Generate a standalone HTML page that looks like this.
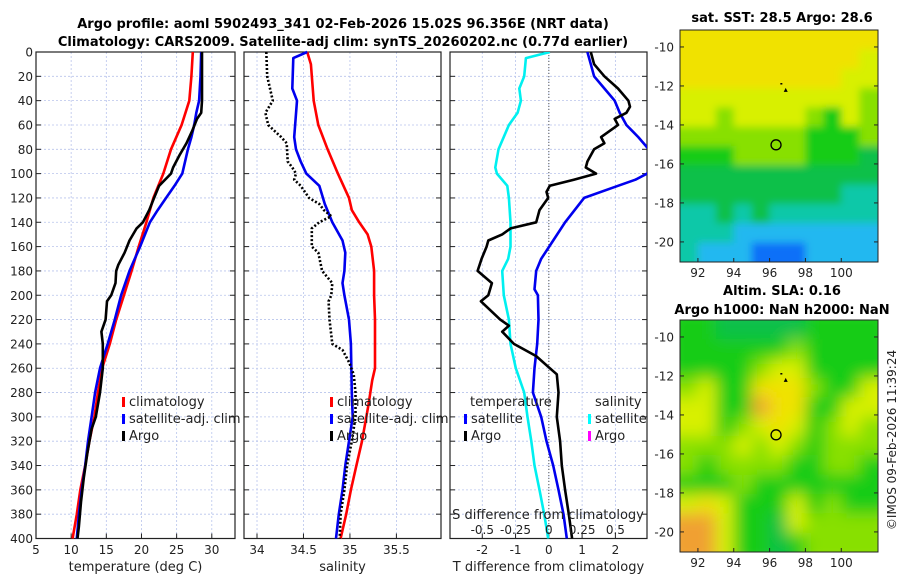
<!DOCTYPE html>
<html><head><meta charset="utf-8"><style>
body{margin:0;background:#fff;width:900px;height:580px;overflow:hidden}
svg{font-family:"DejaVu Sans","Liberation Sans",sans-serif}
</style></head><body>
<svg id="fig" width="900" height="580">
<text x="343" y="28" text-anchor="middle" font-size="13" font-weight="bold">Argo profile: aoml 5902493_341 02-Feb-2026 15.02S 96.356E (NRT data)</text>
<text x="343" y="46" text-anchor="middle" font-size="13" font-weight="bold">Climatology: CARS2009. Satellite-adj clim: synTS_20260202.nc (0.77d earlier)</text>
<g id="p1"></g>
<g id="p2"></g>
<g id="p3"></g>
<g id="m1"></g>
<g id="m2"></g>
<text x="782" y="22" text-anchor="middle" font-size="13" font-weight="bold">sat. SST: 28.5 Argo: 28.6</text>
<text x="782" y="295" text-anchor="middle" font-size="13" font-weight="bold">Altim. SLA: 0.16</text>
<text x="782" y="314" text-anchor="middle" font-size="13" font-weight="bold">Argo h1000: NaN h2000: NaN</text>
<text transform="translate(896,440) rotate(-90)" text-anchor="middle" font-size="12" fill="#222">©IMOS 09-Feb-2026 11:39:24</text>
</svg>
<script>
const climDepth=[0,20,40,60,80,100,120,140,160,180,200,220,240,260,280,300,320,340,360,380,400];
const climTemp=[27.3,27.1,26.8,25.7,24.2,23.1,21.7,20.7,19.6,18.6,17.5,16.4,15.5,14.4,13.8,13.3,12.6,12.0,11.3,10.8,10.2];
const satDepth=[0,20,40,50,60,70,80,100,110,120,130,140,160,180,200,220,240,260,280,300,320,340,360,380,400];
const satTemp=[28.5,28.4,28.2,27.8,27.5,27.1,26.6,25.8,24.7,23.5,22.3,21.2,19.8,18.3,17.1,16.2,15.2,14.1,13.4,12.9,12.4,12.0,11.5,11.1,10.8];
const argoTDepth=[0,20,40,50,55,65,75,85,95,100,110,120,130,140,145,155,165,175,180,190,200,205,220,230,240,260,280,300,310,330,350,370,390,400];
const argoTemp=[28.6,28.6,28.6,28.5,27.9,27.2,26.4,25.4,24.5,24.2,22.5,21.8,21.1,20.2,19.3,18.3,17.6,16.7,16.4,16.3,15.7,15.1,14.9,14.3,14.5,14.5,14.1,13.5,12.9,12.3,11.8,11.4,11.1,10.9];
const climSDepth=[0,10,40,60,80,100,120,130,140,150,160,180,200,220,240,260,270,290,320,340,360,380,400];
const climSal=[34.54,34.58,34.61,34.66,34.76,34.87,34.99,35.02,35.10,35.19,35.23,35.26,35.26,35.27,35.27,35.27,35.24,35.20,35.13,35.07,35.01,34.96,34.90];
const satSDepth=[0,5,30,40,70,80,90,100,110,125,140,155,165,180,190,200,220,240,280,300,320,340,360,380,400];
const satSal=[34.54,34.39,34.38,34.43,34.40,34.42,34.47,34.53,34.67,34.73,34.81,34.92,34.95,34.94,34.92,34.94,34.99,35.01,35.02,35.03,34.99,34.95,34.92,34.88,34.85];
const argoSDepth=[0,20,40,50,60,70,75,90,95,100,105,110,120,125,130,135,140,145,160,165,180,190,200,205,220,240,245,255,265,280,300,320,340,360,380,400];
const argoSal=[34.10,34.11,34.17,34.09,34.12,34.26,34.32,34.33,34.38,34.42,34.40,34.47,34.56,34.67,34.72,34.80,34.67,34.59,34.59,34.66,34.70,34.81,34.80,34.77,34.78,34.81,34.92,34.99,35.04,35.06,35.06,35.02,34.97,34.94,34.90,34.89];
const dSatTDepth=[0,10,20,30,40,50,60,70,80,97,100,105,110,120,140,155,170,180,195,200,220,240,260,280,300,320,340,360,380,400];
const dSatT=[1.16,1.26,1.36,1.67,1.98,2.13,2.33,2.69,3.0,3.05,2.95,2.6,2.08,1.06,0.49,0.13,-0.23,-0.38,-0.43,-0.33,-0.31,-0.35,-0.43,-0.48,-0.23,-0.07,0.13,0.29,0.44,0.54];
const dArgoTDepth=[0,10,20,30,40,45,50,55,60,70,75,80,90,95,100,105,110,115,120,130,140,145,150,155,160,170,180,190,200,205,220,225,230,240,250,260,265,280,300,320,340,360,380,400];
const dArgoT=[1.26,1.36,1.67,2.08,2.39,2.44,2.33,1.98,2.08,1.57,1.67,1.36,1.16,1.11,1.42,0.75,0.03,-0.07,-0.02,-0.28,-0.38,-1.15,-1.4,-1.82,-1.87,-2.02,-2.14,-1.71,-1.82,-2.04,-1.46,-1.2,-1.4,-1.05,-0.38,0.03,0.24,0.29,0.24,0.34,0.39,0.49,0.6,0.7];
const dSatSDepth=[0,5,20,30,40,50,60,80,95,100,110,120,140,160,170,180,200,220,240,260,280,300,320,340,360,380,400];
const dSatS=[0.008,-0.172,-0.185,-0.222,-0.21,-0.235,-0.3,-0.378,-0.402,-0.39,-0.312,-0.3,-0.288,-0.288,-0.305,-0.35,-0.338,-0.3,-0.288,-0.248,-0.185,-0.16,-0.132,-0.108,-0.07,-0.035,-0.005];
const depthTicks=[0,20,40,60,80,100,120,140,160,180,200,220,240,260,280,300,320,340,360,380,400];
const tTicks=[5,10,15,20,25,30];
const sTicks=[34,34.5,35,35.5];
const dTicks=[-2,-1,0,1,2];
const dsTicks=[-0.5,-0.25,0,0.25,0.5];
const lonTicks=[92,94,96,98,100];
const latTicks=[-10,-12,-14,-16,-18,-20];
const sstGrid=["88888888888","88888888887","88888888877","77777777776","77677776576","66666665556","55566665554","44444444444","44444444433","33434333333","33322222222","32221112222"];
const slaGrid=["55444445555","55555565555","55556775555","67558886557","77559885577","77567875676","66676765666","65666655665","55565555555","78755575655","99755476666","99755456666"];

const NS="http://www.w3.org/2000/svg";
const TOP=52,BOT=538.5;
function el(p,t,a){const e=document.createElementNS(NS,t);for(const k in a)e.setAttribute(k,a[k]);p.appendChild(e);return e;}
const yD=d=>TOP+(d/400)*(BOT-TOP);
function panel(g,x0,x1,lo,hi,ticks,fmt,showY,xlabel){
  const xs=v=>x0+(v-lo)/(hi-lo)*(x1-x0);
  ticks.forEach(t=>{const l=el(g,'line',{x1:xs(t),x2:xs(t),y1:TOP,y2:BOT,stroke:'#b8c4ec','stroke-width':0.8,'stroke-dasharray':'2,2'});
    
    const tx=el(g,'text',{x:xs(t),y:554,'text-anchor':'middle','font-size':12,fill:'#222'});tx.textContent=fmt(t);
    
    el(g,'line',{x1:xs(t),x2:xs(t),y1:BOT,y2:BOT-5,stroke:'#222'});});
  depthTicks.forEach(d=>{if(d>0&&d<400){const l=el(g,'line',{x1:x0,x2:x1,y1:yD(d),y2:yD(d),stroke:'#b8c4ec','stroke-width':0.8,'stroke-dasharray':'2,2'});
    }
    el(g,'line',{x1:x0,x2:x0+5,y1:yD(d),y2:yD(d),stroke:'#222'});el(g,'line',{x1:x1,x2:x1-5,y1:yD(d),y2:yD(d),stroke:'#222'});
    if(showY){const tx=el(g,'text',{x:x0-3,y:yD(d)+4.5,'text-anchor':'end','font-size':12,fill:'#222'});tx.textContent=d;
      }});
  const b=el(g,'rect',{x:x0,y:TOP,width:x1-x0,height:BOT-TOP,fill:'none',stroke:'#222','stroke-width':1.2});
  
  const xl=el(g,'text',{x:(x0+x1)/2,y:571,'text-anchor':'middle','font-size':13,fill:'#222'});xl.textContent=xlabel;
  
  return xs;}
function line(g,xs,vals,deps,col,name,dash,clip){
  const pts=vals.map((v,i)=>xs(v).toFixed(1)+','+yD(deps[i]).toFixed(1)).join(' ');
  const a={points:pts,fill:'none',stroke:col,'stroke-width':2.6,'stroke-linejoin':'round'};
  if(dash)a['stroke-dasharray']=dash;if(clip)a['clip-path']=clip;
  const p=el(g,'polyline',a);}
function legend(g,x,y,items){items.forEach((it,i)=>{
  el(g,'rect',{x:x,y:y+i*17-9,width:3,height:10,fill:it[1]});
  const t=el(g,'text',{x:x+7,y:y+i*17,'font-size':13,fill:'#222'});t.textContent=it[0];
  });}
const fig=document.getElementById('fig');
const defs=el(fig,'defs',{});
const cp=el(defs,'clipPath',{id:'c3'});el(cp,'rect',{x:450,y:TOP,width:197,height:BOT-TOP});

const g1=document.getElementById('p1');
const x1s=panel(g1,36,235,5,33.3,tTicks,v=>v,true,'temperature (deg C)');
line(g1,x1s,climTemp,climDepth,'#ff0000','climatology-line');
line(g1,x1s,satTemp,satDepth,'#0000ee','satellite-adj-line');
line(g1,x1s,argoTemp,argoTDepth,'#000','argo-temp-line');
legend(g1,122,406,[['climatology','#f00'],['satellite-adj. clim','#00f'],['Argo','#000']]);
const g2=document.getElementById('p2');
const x2s=panel(g2,244,441,33.86,35.98,sTicks,v=>v,false,'salinity');
line(g2,x2s,climSal,climSDepth,'#ff0000','clim-salinity-line');
line(g2,x2s,satSal,satSDepth,'#0000ee','satellite-salinity-line');
line(g2,x2s,argoSal,argoSDepth,'#000','argo-salinity-line','2,2');
legend(g2,330,406,[['climatology','#f00'],['satellite-adj. clim','#00f'],['Argo','#000']]);
const g3=document.getElementById('p3');
const x3s=panel(g3,450,647,-2.97,2.95,dTicks,v=>v,false,'T difference from climatology');
const z=el(g3,'line',{x1:x3s(0),x2:x3s(0),y1:TOP,y2:BOT,stroke:'#555','stroke-width':1,'stroke-dasharray':'1,2'});

const sx=v=>x3s(v*4);
line(g3,sx,dSatS,dSatSDepth,'#00f0f0','salinity-satellite-diff','',"url(#c3)");
line(g3,x3s,dSatT,dSatTDepth,'#0000ee','temp-satellite-diff','',"url(#c3)");
line(g3,x3s,dArgoT,dArgoTDepth,'#000','temp-argo-diff','',"url(#c3)");
const th=el(g3,'text',{x:470,y:406,'font-size':13,fill:'#222'});th.textContent='temperature';

legend(g3,464,423,[['satellite','#00f'],['Argo','#000']]);
const sh=el(g3,'text',{x:595,y:406,'font-size':13,fill:'#222'});sh.textContent='salinity';

legend(g3,588,423,[['satellite','#0ff'],['Argo','#f0f']]);
const st=el(g3,'text',{x:548,y:519,'text-anchor':'middle','font-size':13,fill:'#222'});st.textContent='S difference from climatology';

dsTicks.forEach(t=>{const tx=el(g3,'text',{x:sx(t),y:534,'text-anchor':'middle','font-size':12,fill:'#222'});tx.textContent=t;
  });

const cols={'1':'#1070f8','2':'#20b8f0','3':'#10c8a8','4':'#10c048','5':'#18cc18','6':'#88e000','7':'#d8f000','8':'#f0e200','9':'#f0a030'};
function map(g,y0,y1,grid,blur,id){
  const X0=680,X1=878,lon=v=>X0+(v-91)/(102.05-91)*(X1-X0);
  const lat=v=>y0+(-9.13-v)/(11.9)*(y1-y0);
  const c=el(defs,'clipPath',{id:'mc'+id});el(c,'rect',{x:X0,y:y0,width:X1-X0,height:y1-y0});
  const f=el(defs,'filter',{id:'bf'+id,x:'-10%',y:'-10%',width:'120%',height:'120%'});el(f,'feGaussianBlur',{stdDeviation:blur});
  const inner=el(g,'g',{'clip-path':'url(#mc'+id+')'});const cells=el(inner,'g',{filter:'url(#bf'+id+')'});
  const rh=11.9/grid.length;
  grid.forEach((row,r)=>{for(let k=0;k<row.length;k++){
    const la=-9.13-r*rh,lo=91+k;
    const cell=el(cells,'rect',{x:lon(lo)-(k==0?14:0),y:lat(la)-(r==0?14:0),width:lon(lo+1)-lon(lo)+1+(k==0?14:0)+(k==row.length-1?14:0),height:lat(la-rh)-lat(la)+1+(r==0?14:0)+(r==grid.length-1?14:0),fill:cols[row[k]]});
    
    }});
  el(g,'rect',{x:X0,y:y0,width:X1-X0,height:y1-y0,fill:'none',stroke:'#222'});
  const circ=el(g,'circle',{cx:lon(96.36),cy:lat(-15.02),r:5,fill:'none',stroke:'#000','stroke-width':1.3});
  
  el(g,'rect',{x:lon(96.6),y:lat(-11.85),width:2,height:1.5,fill:'#000'});
  el(g,'polygon',{points:`${lon(96.9)-2},${lat(-12.2)+2} ${lon(96.9)},${lat(-12.2)-2} ${lon(96.9)+2},${lat(-12.2)+2}`,fill:'#000'});
  lonTicks.forEach(t=>{el(g,'line',{x1:lon(t),x2:lon(t),y1:y1,y2:y1-4,stroke:'#222'});
    const tx=el(g,'text',{x:lon(t),y:y1+15,'text-anchor':'middle','font-size':12,fill:'#222'});tx.textContent=t;
    });
  latTicks.forEach(t=>{el(g,'line',{x1:X0,x2:X0+4,y1:lat(t),y2:lat(t),stroke:'#222'});el(g,'line',{x1:X1,x2:X1-4,y1:lat(t),y2:lat(t),stroke:'#222'});
    const tx=el(g,'text',{x:X0-6,y:lat(t)+4.5,'text-anchor':'end','font-size':12,fill:'#222'});tx.textContent=t;
    });}
map(document.getElementById('m1'),30,262,sstGrid,4,1);
map(document.getElementById('m2'),320,552,slaGrid,8,2);
</script>
</body></html>
